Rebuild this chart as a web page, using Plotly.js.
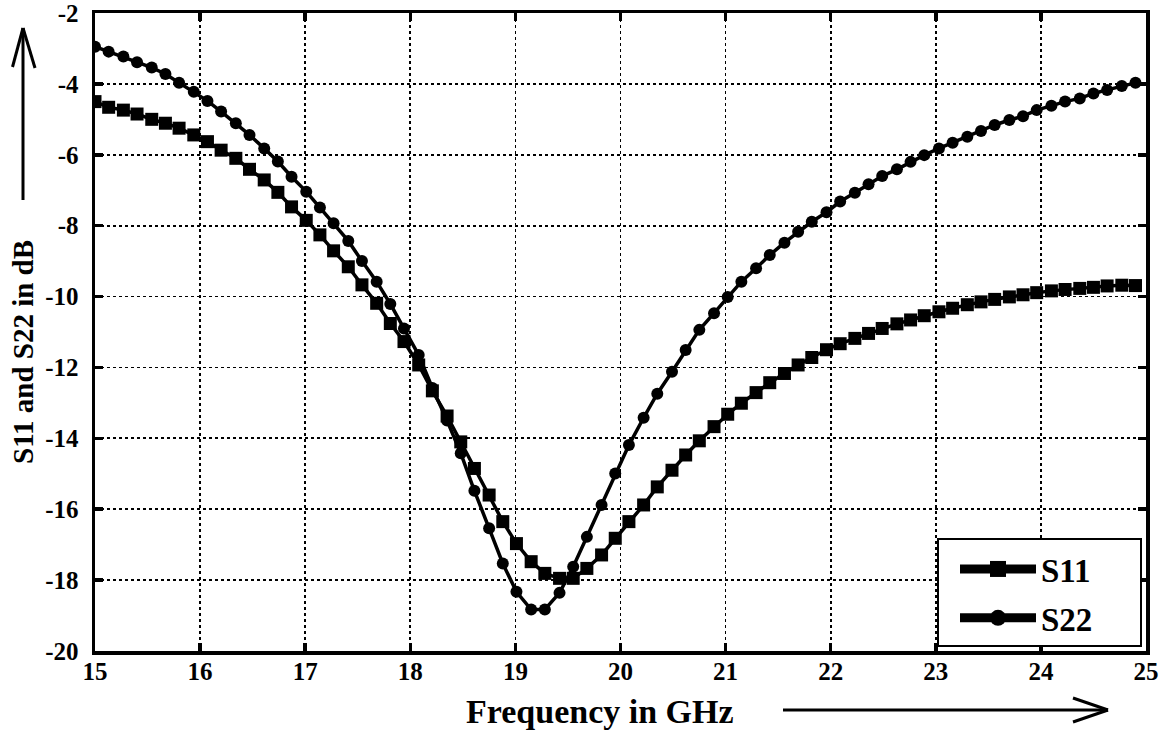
<!DOCTYPE html>
<html>
<head>
<meta charset="utf-8">
<script src="https://cdn.plot.ly/plotly-3.0.1.min.js"></script>
<style>html,body{margin:0;padding:0;background:#fff;}#chart{width:1163px;height:733px;}</style>
</head>
<body>
<div id="chart"></div>
<script>
// Frequency sweep (GHz)
var freq = [15.00,15.13,15.27,15.40,15.54,15.67,15.80,15.94,16.07,16.20,
            16.34,16.47,16.61,16.74,16.87,17.01,17.14,17.27,17.41,17.54,
            17.68,17.81,17.94,18.08,18.21,18.35,18.48,18.61,18.75,18.88,
            19.01,19.15,19.28,19.42,19.55,19.68,19.82,19.95,20.08,20.22,
            20.35,20.49,20.62,20.75,20.89,21.02,21.15,21.29,21.42,21.56,
            21.69,21.82,21.96,22.09,22.23,22.36,22.49,22.63,22.76,22.89,
            23.03,23.16,23.30,23.43,23.56,23.70,23.83,23.96,24.10,24.23,
            24.37,24.50,24.63,24.77,24.90];
// S11 (dB)
var s11 = [-4.50,-4.66,-4.74,-4.85,-5.00,-5.11,-5.25,-5.44,-5.63,-5.87,
           -6.10,-6.41,-6.71,-7.06,-7.47,-7.85,-8.26,-8.71,-9.16,-9.67,
           -10.19,-10.76,-11.27,-11.93,-12.66,-13.37,-14.10,-14.85,-15.60,-16.35,
           -16.97,-17.48,-17.81,-17.95,-17.95,-17.67,-17.29,-16.82,-16.35,-15.88,
           -15.37,-14.90,-14.47,-14.07,-13.67,-13.32,-13.01,-12.71,-12.43,-12.17,
           -11.93,-11.72,-11.50,-11.33,-11.18,-11.04,-10.90,-10.77,-10.66,-10.54,
           -10.43,-10.33,-10.23,-10.15,-10.08,-10.01,-9.95,-9.89,-9.84,-9.80,
           -9.77,-9.74,-9.70,-9.68,-9.69];
// S22 (dB)
var s22 = [-2.95,-3.09,-3.23,-3.39,-3.54,-3.72,-3.97,-4.22,-4.48,-4.78,
           -5.11,-5.44,-5.82,-6.19,-6.62,-7.04,-7.49,-7.93,-8.43,-9.00,
           -9.58,-10.21,-10.90,-11.65,-12.58,-13.50,-14.42,-15.48,-16.54,-17.53,
           -18.33,-18.83,-18.83,-18.36,-17.62,-16.78,-15.88,-14.99,-14.19,-13.42,
           -12.74,-12.12,-11.51,-10.94,-10.47,-10.01,-9.58,-9.20,-8.83,-8.48,
           -8.17,-7.89,-7.62,-7.32,-7.07,-6.83,-6.60,-6.41,-6.20,-6.01,
           -5.82,-5.66,-5.49,-5.33,-5.16,-5.02,-4.91,-4.74,-4.62,-4.50,
           -4.41,-4.27,-4.17,-4.06,-3.97];
var seriesNames = ['S11','S22'];
var xTickVals = [15,16,17,18,19,20,21,22,23,24,25];
var xTickText = ['15','16','17','18','19','20','21','22','23','24','25'];
var yTickVals = [-20,-18,-16,-14,-12,-10,-8,-6,-4,-2];
var yTickText = ['-20','-18','-16','-14','-12','-10','-8','-6','-4','-2'];
var xTitle = 'Frequency in GHz';
var yTitle = 'S11 and S22 in dB';

var FONT = 'Liberation Serif, Times New Roman, serif';
var W = 1163, H = 733, L = 95, R = 17, T = 13, B = 82;
var pw = W - L - R, ph = H - T - B;
function px(x){ return (x - L) / pw; }
function py(y){ return (H - B - y) / ph; }
function bold(arr){ return arr.map(function(t){ return '<b>' + t + '</b>'; }); }

var traces = [
  {x: freq, y: s11, name: seriesNames[0], mode: 'lines+markers', showlegend: false, legendgroup: 'a',
   line: {color: '#000', width: 3.5}, marker: {symbol: 'square', size: 13, color: '#000'}},
  {x: freq, y: s22, name: seriesNames[1], mode: 'lines+markers', showlegend: false, legendgroup: 'b',
   line: {color: '#000', width: 3.5}, marker: {symbol: 'circle', size: 12, color: '#000'}},
  {x: [null], y: [null], name: seriesNames[0], mode: 'lines+markers', legendgroup: 'a',
   line: {color: '#000', width: 9}, marker: {symbol: 'square', size: 16, color: '#000'}},
  {x: [null], y: [null], name: seriesNames[1], mode: 'lines+markers', legendgroup: 'b',
   line: {color: '#000', width: 9}, marker: {symbol: 'circle', size: 16, color: '#000'}}
];

var axisCommon = {
  showgrid: true, gridcolor: '#000', griddash: 'dot', gridwidth: 1.8,
  showline: true, linecolor: '#000', linewidth: 3.5, mirror: 'allticks',
  ticks: 'inside', ticklen: 8, tickwidth: 3.5, tickcolor: '#000',
  tickfont: {family: FONT, size: 25, color: '#000'},
  ticklabeloverflow: 'allow',
  zeroline: false, fixedrange: true, tickmode: 'array'
};

var lineStyle = {color: '#000', width: 3};
var shapes = [
  // legend frame
  {type: 'rect', xref: 'paper', yref: 'paper', x0: px(938), x1: px(1141), y0: py(646), y1: py(539),
   line: {color: '#000', width: 2}, fillcolor: '#fff', layer: 'above'},
  // y-axis arrow
  {type: 'line', xref: 'paper', yref: 'paper', x0: px(23), x1: px(23), y0: py(200), y1: py(28), line: lineStyle},
  {type: 'line', xref: 'paper', yref: 'paper', x0: px(23), x1: px(12.5), y0: py(28), y1: py(67), line: lineStyle},
  {type: 'line', xref: 'paper', yref: 'paper', x0: px(23), x1: px(35), y0: py(28), y1: py(68), line: lineStyle},
  // x-axis arrow
  {type: 'line', xref: 'paper', yref: 'paper', x0: px(783), x1: px(1108), y0: py(710), y1: py(710), line: lineStyle},
  {type: 'line', xref: 'paper', yref: 'paper', x0: px(1108), x1: px(1073), y0: py(710), y1: py(698), line: lineStyle},
  {type: 'line', xref: 'paper', yref: 'paper', x0: px(1108), x1: px(1073), y0: py(710), y1: py(722), line: lineStyle}
];

var layout = {
  width: W, height: H,
  margin: {l: L, r: R, t: T, b: B},
  paper_bgcolor: '#fff', plot_bgcolor: '#fff',
  font: {family: FONT, color: '#000'},
  xaxis: Object.assign({}, axisCommon, {range: [15, 25], tickvals: xTickVals, ticktext: bold(xTickText), ticklabelstandoff: -5}),
  yaxis: Object.assign({}, axisCommon, {range: [-20, -2], tickvals: yTickVals, ticktext: bold(yTickText), ticklabelstandoff: 8}),
  showlegend: true,
  legend: {x: px(955), y: py(541), xanchor: 'left', yanchor: 'top',
           bgcolor: 'rgba(0,0,0,0)', borderwidth: 0,
           font: {family: FONT, size: 33, color: '#000', weight: 'bold'},
           itemwidth: 76, tracegroupgap: 3},
  shapes: shapes,
  annotations: [
    {text: '<b>' + yTitle + '</b>', xref: 'paper', yref: 'paper', x: px(23), y: py(352),
     xanchor: 'center', yanchor: 'middle',
     textangle: -90, showarrow: false, font: {family: FONT, size: 29, color: '#000'}},
    {text: '<b>' + xTitle + '</b>', xref: 'paper', yref: 'paper', x: px(600), y: py(711),
     xanchor: 'center', yanchor: 'middle',
     showarrow: false, font: {family: FONT, size: 34, color: '#000'}}
  ]
};

Plotly.newPlot('chart', traces, layout, {displayModeBar: false, staticPlot: true});
</script>
</body>
</html>
